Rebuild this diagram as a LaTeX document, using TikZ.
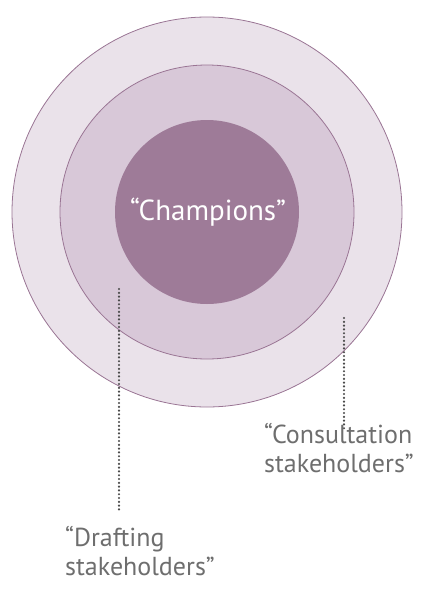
\documentclass[tikz,border=0pt]{standalone}
\usepackage{fontspec}
\setmainfont{PT Sans}
\definecolor{ringout}{HTML}{EAE2EA}
\definecolor{ringmid}{HTML}{D8C8D8}
\definecolor{core}{HTML}{9E7B98}
\definecolor{ringline}{HTML}{9A7594}
\definecolor{labelgray}{HTML}{6E6E6E}
\definecolor{dotgray}{HTML}{4A4A4A}
\tikzset{
  ring/.style={circle, draw=ringline, line width=0.8pt, inner sep=0pt},
  lbl/.style={text=labelgray, font=\fontsize{26}{29}\selectfont, align=left, inner sep=0pt, anchor=base west},
  dotline/.style={draw=dotgray, line width=2.4pt, line cap=round, dash pattern=on 0pt off 3.8pt}
}
\begin{document}
\begin{tikzpicture}[x=1pt,y=-1pt]
\useasboundingbox (0,0) rectangle (424,608);
\node[ring, fill=ringout, minimum size=390pt] (outer) at (207,212) {};
\node[ring, fill=ringmid, minimum size=294pt] (middle) at (207,212) {};
\node[circle, fill=core, minimum size=184pt, inner sep=0pt] (inner) at (207,212) {};
\node[text=white, font=\fontsize{29}{32}\selectfont, anchor=base] (champ) at (208,220) {“Champions”};
\coordinate (d1top) at (119,289);
\coordinate (d1bot) at (119,513);
\coordinate (d2top) at (344,318);
\coordinate (d2bot) at (344,431);
\draw[dotline] (d1top) -- (d1bot);
\draw[dotline] (d2top) -- (d2bot);
\node[lbl] (consult) at (264,472) {“Consultation\\stakeholders”};
\node[lbl] (draft) at (65,575) {“Drafting\\stakeholders”};
\end{tikzpicture}
\end{document}
